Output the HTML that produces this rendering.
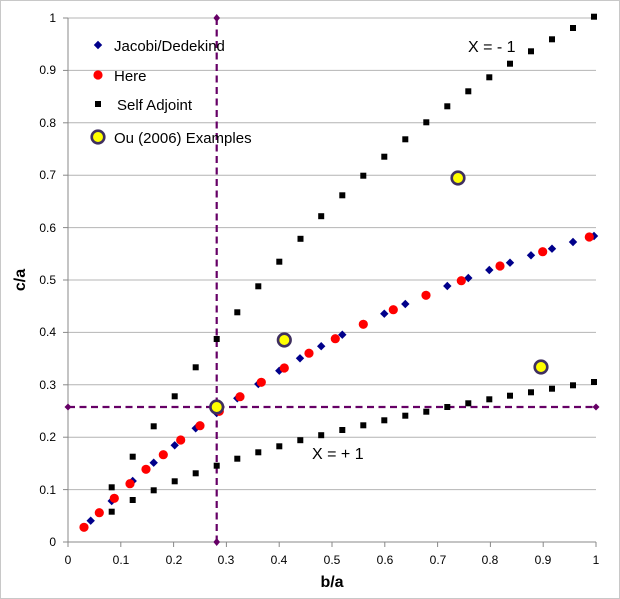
<!DOCTYPE html>
<html><head><meta charset="utf-8"><style>
html,body{margin:0;padding:0;background:#fff;}
svg{display:block;font-family:"Liberation Sans",sans-serif;}
</style></head><body>
<svg width="620" height="599" viewBox="0 0 620 599" xmlns="http://www.w3.org/2000/svg">
<defs>
<rect id="sq" x="-3" y="-3" width="6" height="6" fill="#000"/>
<polygon id="dm" points="0,-4.2 4.2,0 0,4.2 -4.2,0" fill="#00008b"/>
<circle id="rc" r="4.6" fill="#ff0000"/>
</defs>
<rect x="0.5" y="0.5" width="619" height="598" fill="#fff" stroke="#c8c8c8"/>
<g stroke="#b4b4b4" stroke-width="1">
<line x1="68" y1="489.6" x2="596" y2="489.6"/><line x1="68" y1="437.2" x2="596" y2="437.2"/>
<line x1="68" y1="384.8" x2="596" y2="384.8"/><line x1="68" y1="332.4" x2="596" y2="332.4"/>
<line x1="68" y1="280" x2="596" y2="280"/><line x1="68" y1="227.6" x2="596" y2="227.6"/>
<line x1="68" y1="175.2" x2="596" y2="175.2"/><line x1="68" y1="122.8" x2="596" y2="122.8"/>
<line x1="68" y1="70.4" x2="596" y2="70.4"/><line x1="68" y1="18" x2="596" y2="18"/>
</g>
<g stroke="#888" stroke-width="1">
<line x1="68" y1="18" x2="68" y2="542"/><line x1="68" y1="542" x2="596" y2="542"/>
<line x1="63" y1="542" x2="68" y2="542"/><line x1="63" y1="489.6" x2="68" y2="489.6"/><line x1="63" y1="437.2" x2="68" y2="437.2"/><line x1="63" y1="384.8" x2="68" y2="384.8"/><line x1="63" y1="332.4" x2="68" y2="332.4"/><line x1="63" y1="280" x2="68" y2="280"/><line x1="63" y1="227.6" x2="68" y2="227.6"/><line x1="63" y1="175.2" x2="68" y2="175.2"/><line x1="63" y1="122.8" x2="68" y2="122.8"/><line x1="63" y1="70.4" x2="68" y2="70.4"/><line x1="63" y1="18" x2="68" y2="18"/>
<line x1="68" y1="542" x2="68" y2="547"/><line x1="120.8" y1="542" x2="120.8" y2="547"/><line x1="173.6" y1="542" x2="173.6" y2="547"/><line x1="226.4" y1="542" x2="226.4" y2="547"/><line x1="279.2" y1="542" x2="279.2" y2="547"/><line x1="332" y1="542" x2="332" y2="547"/><line x1="384.8" y1="542" x2="384.8" y2="547"/><line x1="437.6" y1="542" x2="437.6" y2="547"/><line x1="490.4" y1="542" x2="490.4" y2="547"/><line x1="543.2" y1="542" x2="543.2" y2="547"/><line x1="596" y1="542" x2="596" y2="547"/>
</g>
<g font-size="12" fill="#000" text-anchor="end">
<text x="56" y="546">0</text><text x="56" y="494">0.1</text><text x="56" y="441">0.2</text><text x="56" y="389">0.3</text><text x="56" y="336">0.4</text><text x="56" y="284">0.5</text><text x="56" y="232">0.6</text><text x="56" y="179">0.7</text><text x="56" y="127">0.8</text><text x="56" y="74">0.9</text><text x="56" y="22">1</text>
</g>
<g font-size="12" fill="#000" text-anchor="middle">
<text x="68" y="564">0</text><text x="121" y="564">0.1</text><text x="174" y="564">0.2</text><text x="226" y="564">0.3</text><text x="279" y="564">0.4</text><text x="332" y="564">0.5</text><text x="385" y="564">0.6</text><text x="438" y="564">0.7</text><text x="490" y="564">0.8</text><text x="543" y="564">0.9</text><text x="596" y="564">1</text>
</g>
<text x="332" y="587" font-size="16" font-weight="bold" text-anchor="middle">b/a</text>
<text transform="translate(25,280) rotate(-90)" font-size="16" font-weight="bold" text-anchor="middle">c/a</text>
<g stroke="#660066" stroke-width="2.2" stroke-dasharray="7,4.5" fill="none">
<line x1="216.7" y1="18" x2="216.7" y2="542"/><line x1="68" y1="407" x2="596" y2="407"/>
</g>
<g fill="#660066">
<polygon points="216.7,14 220,18 216.7,22 213.4,18"/><polygon points="216.7,538 220,542 216.7,546 213.4,542"/>
<polygon points="68,403.5 71.5,407 68,410.5 64.5,407"/><polygon points="596,403.5 599.5,407 596,410.5 592.5,407"/>
</g>
<g>
<use href="#sq" x="111.7" y="487.3"/><use href="#sq" x="132.7" y="456.7"/><use href="#sq" x="153.7" y="426.3"/><use href="#sq" x="174.7" y="396.3"/><use href="#sq" x="195.7" y="367.3"/><use href="#sq" x="216.7" y="339"/><use href="#sq" x="237.3" y="312.3"/><use href="#sq" x="258.3" y="286.3"/><use href="#sq" x="279.3" y="261.7"/><use href="#sq" x="300.5" y="238.8"/><use href="#sq" x="321.2" y="216.2"/><use href="#sq" x="342.3" y="195.3"/><use href="#sq" x="363.3" y="175.7"/><use href="#sq" x="384.3" y="156.7"/><use href="#sq" x="405.3" y="139.3"/><use href="#sq" x="426.3" y="122.3"/><use href="#sq" x="447.3" y="106.3"/><use href="#sq" x="468.3" y="91.3"/><use href="#sq" x="489.3" y="77.3"/><use href="#sq" x="510" y="63.7"/><use href="#sq" x="531" y="51.3"/><use href="#sq" x="552" y="39.3"/><use href="#sq" x="573" y="28"/><use href="#sq" x="594" y="16.7"/>
<use href="#sq" x="111.7" y="511.7"/><use href="#sq" x="132.7" y="500"/><use href="#sq" x="153.7" y="490.3"/><use href="#sq" x="174.7" y="481.3"/><use href="#sq" x="195.7" y="473.3"/><use href="#sq" x="216.7" y="465.7"/><use href="#sq" x="237.3" y="458.7"/><use href="#sq" x="258.3" y="452.3"/><use href="#sq" x="279.3" y="446.3"/><use href="#sq" x="300.3" y="440.2"/><use href="#sq" x="321.2" y="435.2"/><use href="#sq" x="342.3" y="430"/><use href="#sq" x="363.3" y="425.3"/><use href="#sq" x="384.3" y="420.3"/><use href="#sq" x="405.3" y="415.7"/><use href="#sq" x="426.3" y="411.7"/><use href="#sq" x="447.3" y="407"/><use href="#sq" x="468.3" y="403.3"/><use href="#sq" x="489.3" y="399.3"/><use href="#sq" x="510" y="395.7"/><use href="#sq" x="531" y="392.3"/><use href="#sq" x="552" y="388.7"/><use href="#sq" x="573" y="385.3"/><use href="#sq" x="594" y="382"/>
</g>
<g>
<use href="#dm" x="90.7" y="520.7"/><use href="#dm" x="111.7" y="501"/><use href="#dm" x="132.7" y="481"/><use href="#dm" x="153.7" y="462.7"/><use href="#dm" x="174.7" y="445.3"/><use href="#dm" x="195.7" y="428.3"/><use href="#dm" x="216.7" y="413"/><use href="#dm" x="237.3" y="398.3"/><use href="#dm" x="258.3" y="384"/><use href="#dm" x="279.3" y="370.7"/><use href="#dm" x="300" y="358.3"/><use href="#dm" x="321.2" y="346.2"/><use href="#dm" x="342.3" y="334.7"/><use href="#dm" x="363.3" y="324"/><use href="#dm" x="384.3" y="313.7"/><use href="#dm" x="405.3" y="304"/><use href="#dm" x="426.3" y="295"/><use href="#dm" x="447.3" y="286"/><use href="#dm" x="468.3" y="278"/><use href="#dm" x="489.3" y="270"/><use href="#dm" x="510" y="262.7"/><use href="#dm" x="531" y="255.3"/><use href="#dm" x="552" y="248.7"/><use href="#dm" x="573" y="242"/><use href="#dm" x="594" y="236"/>
</g>
<g>
<use href="#rc" x="84" y="527.3"/><use href="#rc" x="99.3" y="512.7"/><use href="#rc" x="114.3" y="498.3"/><use href="#rc" x="130" y="483.7"/><use href="#rc" x="146" y="469.3"/><use href="#rc" x="163.3" y="454.7"/><use href="#rc" x="180.7" y="440"/><use href="#rc" x="200" y="425.7"/><use href="#rc" x="219.3" y="411.3"/><use href="#rc" x="240" y="396.7"/><use href="#rc" x="261.3" y="382.3"/><use href="#rc" x="284.3" y="368"/><use href="#rc" x="309" y="353.2"/><use href="#rc" x="335.3" y="338.7"/><use href="#rc" x="363.3" y="324.3"/><use href="#rc" x="393.3" y="309.7"/><use href="#rc" x="426" y="295.3"/><use href="#rc" x="461.3" y="280.7"/><use href="#rc" x="500" y="266"/><use href="#rc" x="542.7" y="251.7"/><use href="#rc" x="589.3" y="237"/>
</g>
<g fill="#ffff00" stroke="#3f2f5f" stroke-width="2.6">
<circle cx="216.7" cy="407" r="6.3"/><circle cx="284.3" cy="340" r="6.3"/><circle cx="458" cy="178" r="6.3"/><circle cx="541" cy="367" r="6.3"/>
</g>
<text x="468" y="52" font-size="16">X = - 1</text>
<text x="312" y="459" font-size="16">X = + 1</text>
<use href="#dm" x="98" y="45"/>
<text x="114" y="51" font-size="15">Jacobi/Dedekind</text>
<use href="#rc" x="98" y="75"/>
<text x="114" y="81" font-size="15">Here</text>
<use href="#sq" x="98" y="104"/>
<text x="117" y="110" font-size="15">Self Adjoint</text>
<circle cx="98" cy="137" r="6.3" fill="#ffff00" stroke="#3f2f5f" stroke-width="2.6"/>
<text x="114" y="143" font-size="15">Ou (2006) Examples</text>
</svg>
</body></html>
